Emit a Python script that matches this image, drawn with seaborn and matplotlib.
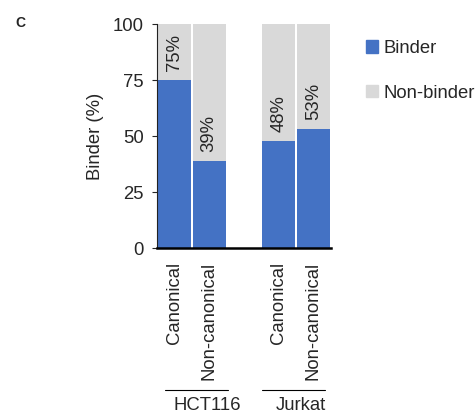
import matplotlib
matplotlib.use("Agg")
import matplotlib.pyplot as plt
import seaborn as sns
import pandas as pd
from matplotlib.patches import Patch

# data
categories = ["Canonical", "Non-canonical", "Canonical", "Non-canonical"]
positions = [0, 1, 3, 4]
binder = [75, 39, 48, 53]
labels = ["75%", "39%", "48%", "53%"]
groups = ["HCT116", "Jurkat"]

blue = "#4472C4"
grey = "#D9D9D9"

sns.set_style("white")
plt.rcParams["font.family"] = ["Liberation Sans", "DejaVu Sans"]
plt.rcParams["font.size"] = 13.3

df = pd.DataFrame({"pos": positions, "binder": binder, "total": [100] * len(binder)})

fig = plt.figure(figsize=(4.76, 4.15), dpi=100)
ax = fig.add_axes([0.33, 0.4024, 0.365, 0.5396])

sns.barplot(data=df, x="pos", y="total", native_scale=True, color=grey,
            saturation=1, width=0.95, linewidth=0, ax=ax)
sns.barplot(data=df, x="pos", y="binder", native_scale=True, color=blue,
            saturation=1, width=0.95, linewidth=0, ax=ax)

for p, b, t in zip(positions, binder, labels):
    ax.text(p, b + 4, t, rotation=90, ha="center", va="bottom", fontsize=13.3)

ax.set_xlim(-0.5, 4.5)
ax.set_ylim(0, 100)
ax.set_yticks([0, 25, 50, 75, 100])
ax.set_xticks(positions)
ax.set_xticklabels(categories, rotation=90, va="top")
ax.set_xlabel("")
ax.set_ylabel("Binder (%)", labelpad=6)

for s in ["top", "right"]:
    ax.spines[s].set_visible(False)
ax.spines["left"].set_color("#222222")
ax.spines["left"].set_linewidth(0.8)
ax.spines["bottom"].set_color("black")
ax.spines["bottom"].set_linewidth(1.8)
ax.tick_params(axis="y", left=True, length=3.6, width=0.8, pad=6, labelsize=13.3)
ax.tick_params(axis="x", bottom=False, length=0, pad=10, labelsize=13.3)

# group brackets under the tick labels
tr = ax.get_xaxis_transform()
ax.plot([-0.27, 1.54], [-0.634, -0.634], color="black", lw=0.8, transform=tr, clip_on=False)
ax.plot([2.52, 4.33], [-0.634, -0.634], color="black", lw=0.8, transform=tr, clip_on=False)
ax.text(0.94, -0.705, groups[0], ha="center", va="center", transform=tr, fontsize=13.3)
ax.text(3.64, -0.705, groups[1], ha="center", va="center", transform=tr, fontsize=13.3)

handles = [Patch(color=blue, label="Binder"), Patch(color=grey, label="Non-binder")]
fig.legend(handles=handles, loc="upper left", bbox_to_anchor=(0.768, 0.904),
           frameon=False, handlelength=0.65, handleheight=0.65, handletextpad=0.3,
           labelspacing=1.5, borderpad=0, borderaxespad=0, fontsize=13.3)

fig.text(0.032, 0.945, "C", fontsize=10, fontweight="bold", va="center")

fig.savefig("out.png", dpi=100)
